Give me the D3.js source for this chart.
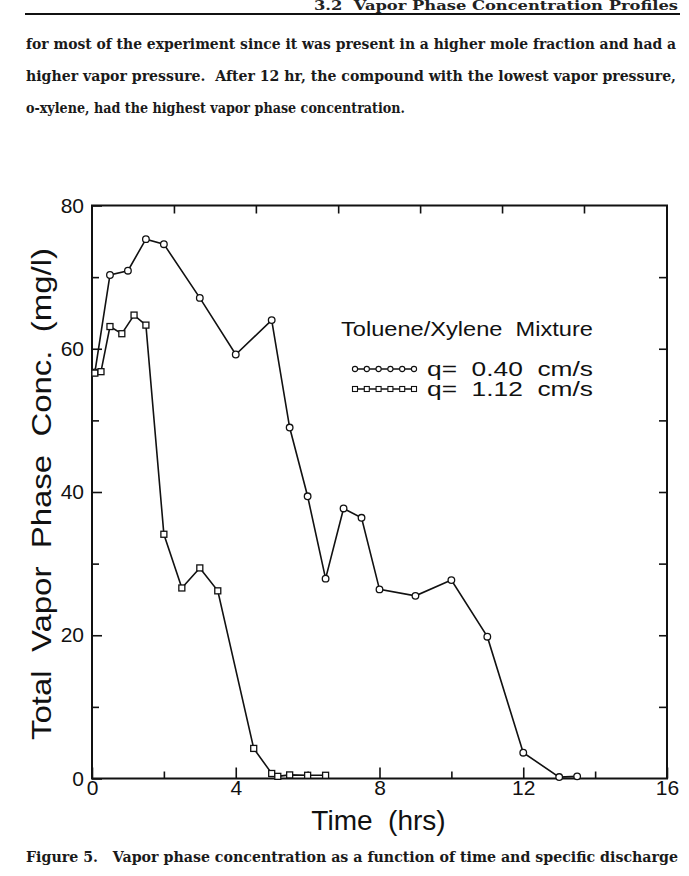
<!DOCTYPE html>
<html>
<head>
<meta charset="utf-8">
<script src="https://cdn.jsdelivr.net/npm/d3@7"></script>
<style>
  html, body { margin: 0; padding: 0; background: #fff; }
  svg { display: block; }
  svg text { white-space: pre; }
</style>
</head>
<body>
<svg id="chart" width="689" height="876"></svg>
<script>
// ---- data ----
const timeQ040 = [0.08, 0.5, 1.0, 1.5, 2.0, 3.0, 4.0, 5.0, 5.5, 6.0, 6.5, 7.0, 7.5, 8.0, 9.0, 10.0, 11.0, 12.0, 13.0, 13.5];
const concQ040 = [56.7, 70.3, 70.9, 75.3, 74.6, 67.1, 59.2, 64.0, 49.0, 39.4, 27.9, 37.7, 36.4, 26.4, 25.5, 27.7, 19.8, 3.6, 0.2, 0.3];
const timeQ112 = [0.08, 0.25, 0.5, 0.83, 1.17, 1.5, 2.0, 2.5, 3.0, 3.5, 4.5, 5.0, 5.17, 5.5, 6.0, 6.5];
const concQ112 = [56.6, 56.8, 63.1, 62.1, 64.7, 63.3, 34.1, 26.6, 29.4, 26.2, 4.2, 0.7, 0.3, 0.5, 0.45, 0.45];

const xMajorTicks = [0, 4, 8, 12, 16];
const xMinorTicks = [2, 6, 10, 14];
const yMajorTicks = [0, 20, 40, 60, 80];
const yMinorTicks = [10, 30, 50, 70];
const topTicks = [2.28, 4.56, 6.85, 9.13, 11.41, 13.69];
const rightTicks = [10, 20, 30, 40, 50, 60, 70];

const legendTitle = "Toluene/Xylene  Mixture";
const legendLabels = ["q=  0.40  cm/s", "q=  1.12  cm/s"];
const xTitle = "Time  (hrs)";
const yTitle = "Total  Vapor  Phase  Conc.  (mg/l)";

const headerText = "3.2  Vapor Phase Concentration Profiles";
const bodyLines = [
  "for most of the experiment since it was present in a higher mole fraction and had a",
  "higher vapor pressure.  After 12 hr, the compound with the lowest vapor pressure,",
  "o-xylene, had the highest vapor phase concentration."
];
const captionText = "Figure 5.   Vapor phase concentration as a function of time and specific discharge";

// ---- layout ----
const svg = d3.select("#chart");
const L = 92, R = 667, T = 205.5, B = 778.5;
const x = d3.scaleLinear().domain([0, 16]).range([L, R]);
const y = d3.scaleLinear().domain([0, 80]).range([B, T]);
const sans = "'Liberation Sans', Arial, sans-serif";
const serif = "'DejaVu Serif', 'Liberation Serif', serif";

// ---- page text ----
svg.append("text").attr("x", 678).attr("y", 10).attr("text-anchor", "end")
  .attr("font-family", serif).attr("font-weight", "bold").attr("font-size", 12)
  .attr("fill", "#222").attr("textLength", 364).attr("lengthAdjust", "spacingAndGlyphs")
  .text(headerText);
svg.append("line").attr("x1", 25).attr("x2", 680).attr("y1", 14).attr("y2", 14)
  .attr("stroke", "#111").attr("stroke-width", 2);

const bodyLens = [650, 650, 379];
bodyLines.forEach((t, i) => {
  svg.append("text").attr("x", 26).attr("y", 49 + i * 32)
    .attr("font-family", serif).attr("font-weight", "bold").attr("font-size", 14)
    .attr("fill", "#1a1a1a")
    .attr("textLength", bodyLens[i]).attr("lengthAdjust", "spacingAndGlyphs")
    .text(t);
});

svg.append("text").attr("x", 26).attr("y", 862)
  .attr("font-family", serif).attr("font-weight", "bold").attr("font-size", 14)
  .attr("fill", "#1a1a1a")
  .attr("textLength", 652).attr("lengthAdjust", "spacingAndGlyphs")
  .text(captionText);

// ---- axes ----
const axStyle = g => {
  g.select(".domain").remove();
  g.selectAll("line").attr("stroke", "#111").attr("stroke-width", 1.6);
  g.selectAll("text").attr("font-family", sans).attr("font-size", 21).attr("fill", "#111");
};

// bottom major with labels (ticks inward)
svg.append("g").attr("transform", `translate(0,${B})`)
  .call(d3.axisBottom(x).tickValues(xMajorTicks).tickSize(-11).tickPadding(2).tickFormat(d3.format("d")))
  .call(axStyle);
svg.append("g").attr("transform", `translate(0,${B})`)
  .call(d3.axisBottom(x).tickValues(xMinorTicks).tickSize(-7).tickFormat(""))
  .call(axStyle);
// left
svg.append("g").attr("transform", `translate(${L},0)`)
  .call(d3.axisLeft(y).tickValues(yMajorTicks).tickSize(-10).tickPadding(8).tickFormat(d3.format("d")))
  .call(axStyle);
svg.append("g").attr("transform", `translate(${L},0)`)
  .call(d3.axisLeft(y).tickValues(yMinorTicks).tickSize(-7).tickFormat(""))
  .call(axStyle);
// top
svg.append("g").attr("transform", `translate(0,${T})`)
  .call(d3.axisTop(x).tickValues(topTicks).tickSize(-8).tickFormat(""))
  .call(axStyle);
// right
svg.append("g").attr("transform", `translate(${R},0)`)
  .call(d3.axisRight(y).tickValues(rightTicks).tickSize(-8).tickFormat(""))
  .call(axStyle);

// frame
svg.append("rect").attr("x", L).attr("y", T).attr("width", R - L).attr("height", B - T)
  .attr("fill", "none").attr("stroke", "#111").attr("stroke-width", 2);

// axis titles
svg.append("text").attr("x", (L + R) / 2 - 1).attr("y", 830).attr("text-anchor", "middle")
  .attr("font-family", sans).attr("font-size", 28).attr("fill", "#111").text(xTitle);
svg.append("text").attr("transform", `translate(51,${494}) rotate(-90)`).attr("text-anchor", "middle")
  .attr("font-family", sans).attr("font-size", 28).attr("fill", "#111")
  .attr("textLength", 492).attr("lengthAdjust", "spacingAndGlyphs").text(yTitle);

// ---- series ----
const line = d3.line().x(d => x(d[0])).y(d => y(d[1]));
const s1 = timeQ040.map((t, i) => [t, concQ040[i]]);
const s2 = timeQ112.map((t, i) => [t, concQ112[i]]);

svg.append("path").datum(s1).attr("d", line).attr("fill", "none").attr("stroke", "#111").attr("stroke-width", 1.6);
svg.append("path").datum(s2).attr("d", line).attr("fill", "none").attr("stroke", "#111").attr("stroke-width", 1.6);

svg.append("g").selectAll("circle").data(s1).join("circle")
  .attr("cx", d => x(d[0])).attr("cy", d => y(d[1])).attr("r", 3.3)
  .attr("fill", "#fff").attr("stroke", "#111").attr("stroke-width", 1.3);
svg.append("g").selectAll("rect").data(s2).join("rect")
  .attr("x", d => x(d[0]) - 3).attr("y", d => y(d[1]) - 3).attr("width", 6).attr("height", 6)
  .attr("fill", "#fff").attr("stroke", "#111").attr("stroke-width", 1.3);

// ---- legend ----
svg.append("text").attr("x", 341).attr("y", 336)
  .attr("font-family", sans).attr("font-size", 20).attr("fill", "#111")
  .attr("textLength", 252).attr("lengthAdjust", "spacingAndGlyphs").text(legendTitle);

const legX0 = 355, legX1 = 414, nMarks = 6;
const legMarks = d3.range(nMarks).map(i => legX0 + i * (legX1 - legX0) / (nMarks - 1));
[369, 389].forEach((ly, k) => {
  const g = svg.append("g");
  g.append("line").attr("x1", legX0).attr("x2", legX1).attr("y1", ly).attr("y2", ly)
    .attr("stroke", "#111").attr("stroke-width", 1.3);
  if (k === 0) {
    g.selectAll("circle").data(legMarks).join("circle")
      .attr("cx", d => d).attr("cy", ly).attr("r", 2.6)
      .attr("fill", "#fff").attr("stroke", "#111").attr("stroke-width", 1.1);
  } else {
    g.selectAll("rect").data(legMarks).join("rect")
      .attr("x", d => d - 2.5).attr("y", ly - 2.5).attr("width", 5).attr("height", 5)
      .attr("fill", "#fff").attr("stroke", "#111").attr("stroke-width", 1.1);
  }
  g.append("text").attr("x", 427).attr("y", ly + 7)
    .attr("font-family", sans).attr("font-size", 20).attr("fill", "#111")
    .attr("textLength", 166).attr("lengthAdjust", "spacingAndGlyphs")
    .text(legendLabels[k]);
});
</script>
</body>
</html>
